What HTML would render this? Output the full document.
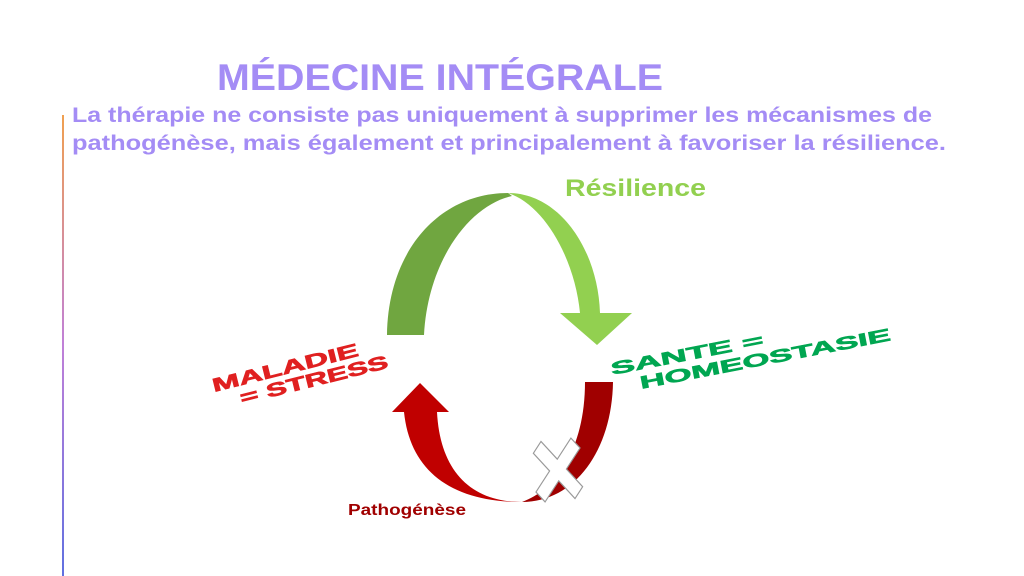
<!DOCTYPE html>
<html><head><meta charset="utf-8"><style>
html,body{margin:0;padding:0;background:#fff;}
svg{display:block}
</style></head><body>
<svg width="1024" height="576" viewBox="0 0 1024 576" xmlns="http://www.w3.org/2000/svg">
<defs>
<linearGradient id="lg" x1="0" y1="0" x2="0" y2="1">
<stop offset="0" stop-color="#f0a050"/><stop offset="0.5" stop-color="#c080d8"/><stop offset="1" stop-color="#6070e0"/>
</linearGradient>
</defs>
<rect x="62" y="115" width="2" height="461" fill="url(#lg)"/>
<text x="440" y="90" text-anchor="middle" font-family="Liberation Sans, sans-serif" font-weight="bold" font-size="37" fill="#a48cf5" textLength="446" lengthAdjust="spacingAndGlyphs">MÉDECINE INTÉGRALE</text>
<text x="72" y="122" font-family="Liberation Sans, sans-serif" font-weight="bold" font-size="21" fill="#a48cf5" textLength="860" lengthAdjust="spacingAndGlyphs">La thérapie ne consiste pas uniquement à supprimer les mécanismes de</text>
<text x="72" y="150" font-family="Liberation Sans, sans-serif" font-weight="bold" font-size="21" fill="#a48cf5" textLength="874" lengthAdjust="spacingAndGlyphs">pathogénèse, mais également et principalement à favoriser la résilience.</text>
<text x="565" y="196" font-family="Liberation Sans, sans-serif" font-weight="bold" font-size="24" fill="#92d050" textLength="141" lengthAdjust="spacingAndGlyphs">Résilience</text>
<!-- green arch -->
<path d="M387,335 C388,250 440,193 508,193 L512,196 C470,205 428,260 424,335 Z" fill="#70a640"/>
<path d="M508,193 C560,193 598,250 600,313 L632,313 L597,345 L560,313 L580,313 C575,260 545,205 508,193 Z" fill="#92d050"/>
<!-- red arc -->
<path d="M585,382 L613,382 C612,450 575,502 522,502 C555,490 585,450 585,382 Z" fill="#a00000"/>
<path d="M522,502 C470,502 440,470 437,412 L449,412 L420,383 L392,412 L404,412 C410,470 450,502 522,502 Z" fill="#c00000"/>
<!-- X -->
<g transform="translate(558,470) scale(0.85,1.1) rotate(40)">
<path d="M-7,-32 L7,-32 L7,-7 L32,-7 L32,7 L7,7 L7,32 L-7,32 L-7,7 L-32,7 L-32,-7 L-7,-7 Z" fill="#fff" stroke="#999" stroke-width="1.2"/>
</g>
<g transform="translate(214,392) rotate(-14) scale(1,0.85)" stroke-width="0.8">
<text x="0" y="0" font-family="Liberation Sans, sans-serif" font-weight="bold" font-size="22" fill="#e02020" stroke="#e02020" textLength="150" lengthAdjust="spacingAndGlyphs">MALADIE</text>
<text x="24" y="22" font-family="Liberation Sans, sans-serif" font-weight="bold" font-size="22" fill="#e02020" stroke="#e02020" textLength="152" lengthAdjust="spacingAndGlyphs">= STRESS</text>
</g>
<g transform="translate(612,375) rotate(-11) scale(1,0.8)" stroke-width="0.8">
<text x="0" y="0" font-family="Liberation Sans, sans-serif" font-weight="bold" font-size="22" fill="#00a651" stroke="#00a651" textLength="155" lengthAdjust="spacingAndGlyphs">SANTE =</text>
<text x="26" y="24" font-family="Liberation Sans, sans-serif" font-weight="bold" font-size="22" fill="#00a651" stroke="#00a651" textLength="255" lengthAdjust="spacingAndGlyphs">HOMEOSTASIE</text>
</g>
<text x="348" y="515" font-family="Liberation Sans, sans-serif" font-weight="bold" font-size="16" fill="#a00000" textLength="118" lengthAdjust="spacingAndGlyphs">Pathogénèse</text>
</svg>
</body></html>
